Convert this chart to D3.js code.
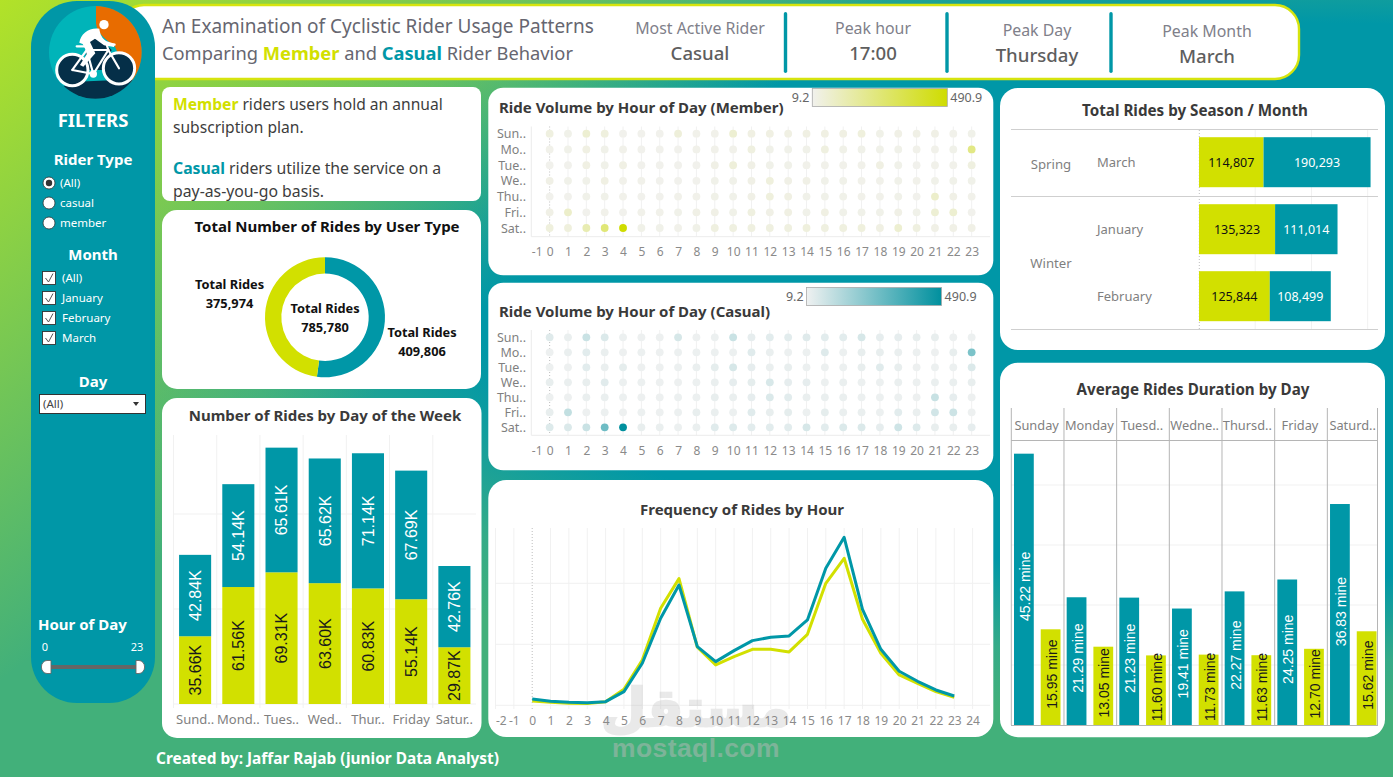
<!DOCTYPE html>
<html>
<head>
<meta charset="utf-8">
<title>Cyclistic Rider Usage</title>
<script src="https://cdn.jsdelivr.net/npm/d3@7/dist/d3.min.js"></script>
<style>
  html, body { margin: 0; padding: 0; overflow: hidden; background: #0097a7; }
  svg { display: block; }
  text { font-family: "Noto Sans", "Open Sans", sans-serif; }
  .num { font-family: "Liberation Sans", Arial, sans-serif; }
</style>
</head>
<body>
<svg id="board" width="1393" height="777"></svg>
<script>
// ---------- Data ----------
const weekNames = ["Sunday", "Monday", "Tuesday", "Wednesday", "Thursday", "Friday", "Saturday"];
const stackTickLabels = ["Sund..", "Mond..", "Tues..", "Wed..", "Thur..", "Friday", "Satur.."];
const durationHeaders = ["Sunday", "Monday", "Tuesd..", "Wedne..", "Thursd..", "Friday", "Saturd.."];
const dotRowLabels = ["Sun..", "Mo..", "Tue..", "We..", "Thu..", "Fri..", "Sat.."];

const memberByDayK = [35.66, 61.56, 69.31, 63.60, 60.83, 55.14, 29.87];
const casualByDayK = [42.84, 54.14, 65.61, 65.62, 71.14, 67.69, 42.76];

const memberDuration = [15.95, 13.05, 11.60, 11.73, 11.63, 12.70, 15.62];
const casualDuration = [45.22, 21.29, 21.23, 19.41, 22.27, 24.25, 36.83];

const userTypes = ["Casual", "Member"];
const userTotals = [409806, 375974];
const grandTotal = 785780;

const seasonNames = ["Spring", "Winter"];
const monthNames = ["March", "January", "February"];
const memberByMonth = [114807, 135323, 125844];
const casualByMonth = [190293, 111014, 108499];

const hours = d3.range(0, 24);
const memberByHour = [1420, 980, 660, 550, 1200, 5250, 14860, 31810, 41530, 19020, 13230, 15960,
                      18360, 18360, 17490, 23280, 40000, 48200, 28200, 17050, 9950, 7210, 4480, 2620];
const casualByHour = [2080, 1310, 980, 870, 1200, 4480, 13770, 28530, 39450, 19240, 14320, 17920,
                      21200, 22300, 22730, 27980, 44920, 55090, 31480, 18360, 11150, 7870, 5030, 3060];

// Volume per weekday (rows) and hour (columns)
const memberVolume = [
  [35, 18, 65, 40, 12, 12, 12, 48, 15, 15, 65, 30, 30, 30, 30, 30, 30, 42, 20, 24, 24, 24, 15, 18],
  [15, 18, 30, 18, 15, 12, 12, 12, 15, 15, 15, 35, 18, 18, 18, 36, 20, 18, 18, 18, 15, 15, 18, 220],
  [12, 12, 30, 18, 28, 12, 12, 12, 12, 24, 48, 24, 18, 18, 15, 15, 15, 15, 30, 18, 12, 15, 15, 36],
  [24, 18, 18, 30, 15, 15, 12, 12, 12, 18, 18, 24, 42, 24, 24, 18, 18, 15, 15, 18, 15, 18, 18, 18],
  [12, 12, 18, 18, 15, 12, 12, 15, 15, 20, 18, 24, 42, 30, 18, 18, 18, 15, 15, 18, 12, 78, 24, 15],
  [24, 80, 12, 15, 12, 15, 15, 18, 24, 24, 20, 36, 24, 30, 18, 30, 18, 18, 18, 24, 18, 60, 66, 12],
  [42, 42, 130, 250, 490, 20, 18, 15, 20, 36, 36, 36, 36, 36, 42, 36, 38, 42, 30, 66, 36, 24, 24, 24]
];
const casualVolume = [
  [42, 20, 85, 50, 16, 14, 14, 60, 14, 16, 85, 28, 35, 35, 42, 35, 35, 60, 28, 28, 24, 24, 14, 16],
  [14, 20, 35, 20, 14, 16, 14, 16, 16, 16, 16, 40, 20, 16, 16, 44, 16, 24, 24, 20, 16, 14, 24, 240],
  [14, 14, 35, 20, 30, 14, 14, 16, 20, 30, 60, 28, 20, 24, 16, 16, 16, 24, 40, 24, 14, 16, 16, 50],
  [24, 20, 24, 38, 16, 16, 14, 14, 16, 20, 28, 30, 55, 28, 28, 16, 20, 16, 16, 20, 16, 20, 20, 24],
  [14, 14, 20, 20, 16, 14, 14, 16, 16, 24, 20, 28, 50, 35, 20, 20, 20, 16, 16, 16, 14, 90, 28, 14],
  [24, 100, 14, 16, 14, 16, 14, 16, 24, 20, 16, 40, 24, 30, 16, 30, 20, 20, 16, 35, 20, 70, 80, 14],
  [45, 50, 85, 270, 490, 24, 20, 16, 20, 40, 45, 35, 35, 35, 60, 35, 50, 50, 28, 75, 45, 24, 24, 28]
];
const volumeRange = [9.2, 490.9];

const kpiTiles = [
  ["Most Active Rider", "Casual"],
  ["Peak hour", "17:00"],
  ["Peak Day", "Thursday"],
  ["Peak Month", "March"]
];
const riderOptions = ["(All)", "casual", "member"];
const monthOptions = ["(All)", "January", "February", "March"];

// ---------- Palette ----------
const TEAL = "#0097a7";
const LIME = "#d2e000";
const GRID = "#f1f1f1";
const MUTED = "#7f7f7f";
const INK = "#3a3a3a";

const svg = d3.select("#board");
const defs = svg.append("defs");

// ---------- Backdrop ----------
const glow = defs.append("radialGradient").attr("id", "glow")
  .attr("gradientUnits", "userSpaceOnUse")
  .attr("cx", 0).attr("cy", 0).attr("r", 1)
  .attr("gradientTransform", "translate(1300,300) scale(1250,420)");
[[0, TEAL], [0.66, TEAL], [0.86, "#35ab88"], [1, "#42b07a"]].forEach(([o, c]) =>
  glow.append("stop").attr("offset", o).attr("stop-color", c));

const limeWash = defs.append("linearGradient").attr("id", "limeWash")
  .attr("gradientUnits", "userSpaceOnUse")
  .attr("x1", 0).attr("y1", 0).attr("x2", 500).attr("y2", 650);
limeWash.append("stop").attr("offset", 0).attr("stop-color", "#b2e228").attr("stop-opacity", 1);
limeWash.append("stop").attr("offset", 0.66).attr("stop-color", "#b2e228").attr("stop-opacity", 0);

svg.append("rect").attr("width", 1393).attr("height", 777).attr("fill", "url(#glow)");
svg.append("rect").attr("width", 1393).attr("height", 777).attr("fill", "url(#limeWash)");

// ---------- Helpers ----------
function label(parent, x, y, str, opts = {}) {
  return parent.append("text").attr("x", x).attr("y", y)
    .attr("text-anchor", opts.anchor || "middle")
    .attr("font-size", opts.size || 12)
    .attr("font-weight", opts.weight || 400)
    .attr("fill", opts.fill || MUTED)
    .text(str);
}
function panel(x, y, w, h, r) {
  svg.append("rect").attr("x", x).attr("y", y).attr("width", w).attr("height", h)
    .attr("rx", r).attr("fill", "#fff");
}
function richLine(parent, x, y, size, runs, baseFill) {
  const t = parent.append("text").attr("x", x).attr("y", y).attr("font-size", size).attr("fill", baseFill);
  runs.forEach(r => t.append("tspan")
    .attr("fill", r.fill || baseFill)
    .attr("font-weight", r.bold ? 700 : 400)
    .text(r.text));
  return t;
}
const hyphenTick = d => String(d).replace("\u2212", "-");

// ---------- Header ----------
svg.append("rect").attr("x", 120).attr("y", 5).attr("width", 1179).attr("height", 74)
  .attr("rx", 24).attr("fill", "#fff").attr("stroke", "#d6e40e").attr("stroke-width", 2.4);

richLine(svg, 162, 33, 19, [{ text: "An Examination of Cyclistic Rider Usage Patterns" }], "#666670");
richLine(svg, 162, 60, 18.3, [
  { text: "Comparing " }, { text: "Member", fill: LIME, bold: true }, { text: " and " },
  { text: "Casual", fill: TEAL, bold: true }, { text: " Rider Behavior" }
], "#666670");

const kpiCenters = [700, 873, 1037, 1207];
const kpiBase = [34, 34, 36, 37];
kpiTiles.forEach((d, i) => {
  label(svg, kpiCenters[i], kpiBase[i], d[0], { size: 15.9, fill: "#80808a" });
  label(svg, kpiCenters[i], kpiBase[i] + 26, d[1], { size: 18.6, weight: 500, fill: "#5e5e5e" });
});
[785.5, 947, 1111].forEach(x =>
  svg.append("rect").attr("x", x - 1.7).attr("y", 12).attr("width", 3.4).attr("height", 61)
    .attr("rx", 1.7).attr("fill", TEAL));

// ---------- Sidebar ----------
svg.append("rect").attr("x", 31).attr("y", 1).attr("width", 124).attr("height", 702)
  .attr("rx", 46).attr("fill", TEAL);

// Logo badge: cyclist over a three-colour disc
defs.append("clipPath").attr("id", "discClip").append("circle")
  .attr("cx", 166).attr("cy", 157).attr("r", 139);
const logo = svg.append("g").attr("transform", "translate(40,0) scale(0.3333)");
const disc = logo.append("g").attr("clip-path", "url(#discClip)");
disc.append("rect").attr("x", 0).attr("y", 0).attr("width", 345).attr("height", 315).attr("fill", "#00b4b9");
disc.append("path").attr("fill", "#e86c00")
  .attr("d", "M168,10 L168,70 C170,100 200,120 225,140 L272,250 L330,250 L330,10 Z");
disc.append("path").attr("fill", "#052f48")
  .attr("d", "M60,262 L110,245 L230,240 L290,240 L290,310 L60,310 Z");
disc.append("path").attr("fill", "#052f48")
  .attr("d", "M145,120 L178,112 L215,150 L185,210 L130,210 Z");
[[97, 210], [237, 205]].forEach(([cx, cy]) =>
  logo.append("circle").attr("cx", cx).attr("cy", cy).attr("r", 47)
    .attr("fill", "#052f48").attr("stroke", "#fff").attr("stroke-width", 9));
const frame = logo.append("g").attr("stroke", "#fff").attr("stroke-width", 6.5)
  .attr("fill", "none").attr("stroke-linecap", "round");
frame.append("path").attr("d", "M97,210 L140,150 L205,150 L237,205");
frame.append("path").attr("d", "M140,150 L160,222 L205,150");
frame.append("path").attr("d", "M97,210 L160,222");
frame.append("path").attr("d", "M205,150 L200,134 L224,134");
frame.append("path").attr("d", "M110,139 L150,139");
logo.append("circle").attr("cx", 160).attr("cy", 222).attr("r", 11).attr("fill", "#fff");
logo.append("circle").attr("cx", 192).attr("cy", 74).attr("r", 14).attr("fill", "#fff");
logo.append("path").attr("fill", "#fff")
  .attr("d", "M118,128 C122,100 148,82 178,86 C180,102 186,116 200,124 L224,131 L222,141 L192,136 L165,116 L150,126 L166,160 L130,200 L120,195 L142,160 L128,132 Z");

label(svg, 93, 127, "FILTERS", { size: 18.5, weight: 700, fill: "#fff" });
label(svg, 93, 165, "Rider Type", { size: 15, weight: 700, fill: "#fff" });
riderOptions.forEach((d, i) => {
  const y = 183 + i * 20;
  svg.append("circle").attr("cx", 49).attr("cy", y).attr("r", 6)
    .attr("fill", "#fff").attr("stroke", "#333").attr("stroke-width", 0.8);
  if (i === 0) svg.append("circle").attr("cx", 49).attr("cy", y).attr("r", 3.2).attr("fill", "#333");
  label(svg, 60, y + 4, d, { anchor: "start", size: 11.5, fill: "#fff" });
});
label(svg, 93, 260, "Month", { size: 15, weight: 700, fill: "#fff" });
monthOptions.forEach((d, i) => {
  const y = 278 + i * 20;
  svg.append("rect").attr("x", 42.5).attr("y", y - 6.5).attr("width", 13).attr("height", 13)
    .attr("fill", "#fff").attr("stroke", "#333").attr("stroke-width", 0.9);
  svg.append("path").attr("d", `M45.5,${y} L48.5,${y + 4} L53,${y - 4.5}`)
    .attr("fill", "none").attr("stroke", "#555").attr("stroke-width", 1);
  label(svg, 62, y + 4, d, { anchor: "start", size: 11.5, fill: "#fff" });
});
label(svg, 93, 387, "Day", { size: 15, weight: 700, fill: "#fff" });
svg.append("rect").attr("x", 39.5).attr("y", 394.5).attr("width", 106).attr("height", 19)
  .attr("fill", "#fff").attr("stroke", "#333").attr("stroke-width", 1);
label(svg, 43, 408, "(All)", { anchor: "start", size: 11.5, fill: "#444" });
svg.append("path").attr("d", "M133,402 L139,402 L136,406 Z").attr("fill", "#333");

label(svg, 38, 630, "Hour of Day", { anchor: "start", size: 15, weight: 700, fill: "#fff" });
label(svg, 45, 651, "0", { size: 11, fill: "#fff" });
label(svg, 137, 651, "23", { size: 11, fill: "#fff" });
svg.append("rect").attr("x", 50).attr("y", 665).attr("width", 87).attr("height", 4).attr("fill", "#666");
svg.append("path").attr("d", "M51,660.5 L47,660.5 A5.6,6.5 0 0 0 47,673.5 L51,673.5 Z")
  .attr("fill", "#fff").attr("stroke", "#666").attr("stroke-width", 0.9);
svg.append("path").attr("d", "M136,660.5 L139,660.5 A5.6,6.5 0 0 1 139,673.5 L136,673.5 Z")
  .attr("fill", "#fff").attr("stroke", "#666").attr("stroke-width", 0.9);

// ---------- Rider type notes ----------
panel(162, 87, 319, 114, 8);
richLine(svg, 173, 110, 15.6, [{ text: "Member", fill: LIME, bold: true }, { text: " riders users hold an annual" }], "#3d3d3d");
richLine(svg, 173, 133, 15.6, [{ text: "subscription plan." }], "#3d3d3d");
richLine(svg, 173, 174, 15.8, [{ text: "Casual", fill: TEAL, bold: true }, { text: " riders utilize the service on a" }], "#3d3d3d");
richLine(svg, 173, 197, 15.8, [{ text: "pay-as-you-go basis." }], "#3d3d3d");

// ---------- Donut: total rides by user type ----------
panel(162, 210, 319, 179, 15);
label(svg, 327, 232, "Total Number of Rides by User Type", { size: 15, weight: 700, fill: "#111" });
const donut = svg.append("g").attr("transform", "translate(325,317.3)");
const pie = d3.pie().sort(null);
const arc = d3.arc().innerRadius(43.7).outerRadius(60);
donut.selectAll("path").data(pie(userTotals)).join("path")
  .attr("d", arc).attr("fill", (d, i) => i === 0 ? TEAL : LIME);
const fmt = d3.format(",");
[[229.5, 289, userTotals[1]], [325, 313, grandTotal], [422, 337, userTotals[0]]].forEach(([x, y, v]) => {
  label(svg, x, y, "Total Rides", { size: 12.8, weight: 700, fill: "#111" });
  label(svg, x, y + 19, fmt(v), { size: 12.8, weight: 700, fill: "#111" });
});

// ---------- Stacked columns: rides by weekday ----------
panel(162, 398, 319.5, 340, 15);
label(svg, 325, 421, "Number of Rides by Day of the Week", { size: 15, weight: 700, fill: INK });
const stackX = d3.scaleBand().domain(weekNames).range([173.5, 476]).paddingInner(0.258).paddingOuter(0.129);
const stackY = d3.scaleLinear().domain([0, 150]).range([704, 419]);
const stackGrid = svg.append("g");
[50, 100].forEach(v => stackGrid.append("line").attr("x1", 173.5).attr("x2", 476)
  .attr("y1", stackY(v)).attr("y2", stackY(v)).attr("stroke", GRID));
stackGrid.append("line").attr("x1", 173.5).attr("x2", 476).attr("y1", 704).attr("y2", 704).attr("stroke", GRID);
weekNames.forEach((d, i) => {
  const gx = 173.5 + stackX.step() * i;
  stackGrid.append("line").attr("x1", gx).attr("x2", gx).attr("y1", 435).attr("y2", 708).attr("stroke", GRID);
});
const stackSeries = d3.stack().keys(["member", "casual"])(
  weekNames.map((d, i) => ({ day: d, member: memberByDayK[i], casual: casualByDayK[i] })));
stackSeries.forEach((layer, li) => {
  const g = svg.append("g");
  layer.forEach((seg, i) => {
    const x = stackX(weekNames[i]);
    g.append("rect").attr("x", x).attr("y", stackY(seg[1])).attr("width", stackX.bandwidth())
      .attr("height", stackY(seg[0]) - stackY(seg[1])).attr("fill", li === 0 ? LIME : TEAL);
    const cx = x + stackX.bandwidth() / 2, cy = (stackY(seg[0]) + stackY(seg[1])) / 2;
    g.append("text").attr("class", "num")
      .attr("transform", `translate(${cx},${cy}) rotate(-90)`)
      .attr("text-anchor", "middle").attr("dy", "0.36em").attr("font-size", 16)
      .attr("fill", li === 0 ? "#1a1a1a" : "#fff")
      .text(`${(seg[1] - seg[0]).toFixed(2)}K`);
  });
});
stackTickLabels.forEach((d, i) =>
  label(svg, stackX(weekNames[i]) + stackX.bandwidth() / 2, 724, d, { size: 13 }));

// ---------- Dot matrices: ride volume by hour ----------
function dotMatrix(cfg) {
  panel(488.3, cfg.top, 505, cfg.height, 15);
  label(svg, 499, cfg.titleY, cfg.title, { anchor: "start", size: 15, weight: 700, fill: INK });

  const x = d3.scaleLinear().domain([-1, 24]).range([531.3, 990]);
  const y = d3.scalePoint().domain(weekNames).range([cfg.rowTop, cfg.rowBottom]);
  const colour = d3.scaleLinear().domain(volumeRange).range(cfg.colours);
  const g = svg.append("g");

  hours.forEach(h => g.append("line").attr("x1", x(h)).attr("x2", x(h))
    .attr("y1", cfg.gridTop).attr("y2", cfg.axisY).attr("stroke", h === 0 ? "#bdbdbd" : GRID)
    .attr("stroke-dasharray", h === 0 ? "1 2" : null));
  g.append("line").attr("x1", 531.3).attr("x2", 990).attr("y1", cfg.axisY).attr("y2", cfg.axisY).attr("stroke", "#ececec");
  g.append("line").attr("x1", 531.3).attr("x2", 531.3).attr("y1", cfg.gridTop).attr("y2", cfg.axisY).attr("stroke", "#ececec");

  cfg.values.forEach((row, r) => {
    g.selectAll(null).data(row).join("circle")
      .attr("cx", (d, h) => x(h)).attr("cy", y(weekNames[r])).attr("r", 3.9)
      .attr("fill", d => colour(d));
    label(g, 526, y(weekNames[r]) + 4.5, dotRowLabels[r], { anchor: "end", size: 12.5 });
  });

  const axis = g.append("g").attr("transform", `translate(0,${cfg.axisY})`)
    .call(d3.axisBottom(x).tickValues(d3.range(-1, 24)).tickFormat(hyphenTick).tickSize(0).tickPadding(11));
  axis.select(".domain").remove();
  axis.selectAll("text").attr("font-size", 12).attr("fill", "#8a8a8a")
    .attr("font-family", '"Noto Sans", sans-serif');
  axis.selectAll("text").filter(d => d === -1).attr("text-anchor", "start");

  // Colour legend
  const id = `ramp${Math.round(cfg.top)}`;
  const ramp = defs.append("linearGradient").attr("id", id);
  ramp.append("stop").attr("offset", 0).attr("stop-color", cfg.colours[0]);
  ramp.append("stop").attr("offset", 1).attr("stop-color", cfg.colours[1]);
  svg.append("rect").attr("x", cfg.legend[0]).attr("y", cfg.legend[1]).attr("width", 135).attr("height", 18)
    .attr("fill", `url(#${id})`).attr("stroke", "#aaa").attr("stroke-width", 0.8);
  label(svg, cfg.legend[0] - 3, cfg.legend[1] + 13, volumeRange[0], { anchor: "end", size: 12.5, fill: "#666" });
  label(svg, cfg.legend[0] + 138, cfg.legend[1] + 13, volumeRange[1], { anchor: "start", size: 12.5, fill: "#666" });
}
dotMatrix({
  top: 87.7, height: 187.6, title: "Ride Volume by Hour of Day (Member)", titleY: 113,
  rowTop: 133.7, rowBottom: 228, gridTop: 126.5, axisY: 236.7,
  values: memberVolume, colours: ["#f1f1ed", "#cfdc00"], legend: [812.3, 88.5]
});
dotMatrix({
  top: 282.7, height: 187.6, title: "Ride Volume by Hour of Day (Casual)", titleY: 317,
  rowTop: 337.3, rowBottom: 427.3, gridTop: 330, axisY: 435.3,
  values: casualVolume, colours: ["#eff1f1", "#00909e"], legend: [806.6, 287.5]
});

// ---------- Line chart: frequency of rides by hour ----------
panel(488.3, 480, 505, 257, 18);
label(svg, 742, 515, "Frequency of Rides by Hour", { size: 15, weight: 700, fill: INK });
const lineX = d3.scaleLinear().domain([-2, 24]).range([495.5, 972.6]);
const lineY = d3.scaleLinear().domain([0, 60000]).range([705.3, 522.3]);
const lineGrid = svg.append("g");
d3.range(-2, 25).forEach(h => lineGrid.append("line")
  .attr("x1", lineX(h)).attr("x2", lineX(h)).attr("y1", 528).attr("y2", 709)
  .attr("stroke", h === 0 ? "#bdbdbd" : GRID).attr("stroke-dasharray", h === 0 ? "1 2" : null));
[0, 20000, 40000].forEach(v => lineGrid.append("line")
  .attr("x1", 495.5).attr("x2", 990).attr("y1", lineY(v)).attr("y2", lineY(v)).attr("stroke", GRID));

// Site mark sits under the plot's axis labels and lines
svg.append("text").attr("x", 696).attr("y", 726).attr("text-anchor", "middle")
  .attr("font-size", 52).attr("font-weight", 700).attr("fill", "#aaa").attr("opacity", 0.25)
  .attr("stroke", "#aaa").attr("stroke-width", 2.5)
  .style("font-family", '"DejaVu Sans", sans-serif').text("مستقل");

const hourLine = d3.line().x((d, i) => lineX(hours[i])).y(d => lineY(d));
[[memberByHour, LIME], [casualByHour, TEAL]].forEach(([vals, col]) =>
  svg.append("path").attr("d", hourLine(vals)).attr("fill", "none")
    .attr("stroke", col).attr("stroke-width", 3).attr("stroke-linejoin", "round"));
const lineAxis = svg.append("g").attr("transform", "translate(0,705.3)")
  .call(d3.axisBottom(lineX).tickValues(d3.range(-2, 25)).tickFormat(hyphenTick).tickSize(0).tickPadding(11));
lineAxis.select(".domain").remove();
lineAxis.selectAll("text").attr("font-size", 12).attr("fill", "#8a8a8a")
  .attr("font-family", '"Noto Sans", sans-serif');
lineAxis.selectAll("text").filter(d => d === -2).attr("text-anchor", "start");

// ---------- Horizontal bars: rides by season and month ----------
panel(1000, 88, 385, 262, 18);
label(svg, 1195, 116, "Total Rides by Season / Month", { size: 15.2, weight: 700, fill: INK });
const monthX = d3.scaleLinear().domain([0, 300000]).range([1199, 1367.7]);
const monthY = d3.scaleBand().domain(monthNames).range([128.7, 329.7]).paddingInner(0.2537).paddingOuter(0.127);
[100000, 200000, 300000].forEach(v => svg.append("line")
  .attr("x1", monthX(v)).attr("x2", monthX(v)).attr("y1", 130).attr("y2", 329).attr("stroke", GRID));
svg.append("line").attr("x1", 1199.3).attr("x2", 1199.3).attr("y1", 130).attr("y2", 329)
  .attr("stroke", "#bdbdbd").attr("stroke-dasharray", "1 2");
[129.5, 196.5, 329.5].forEach(y => svg.append("line")
  .attr("x1", 1011).attr("x2", 1378).attr("y1", y).attr("y2", y).attr("stroke", "#cfcfcf"));
monthNames.forEach((m, i) => {
  const y = monthY(m), h = monthY.bandwidth();
  const a = memberByMonth[i], b = casualByMonth[i];
  svg.append("rect").attr("x", monthX(0)).attr("y", y).attr("width", monthX(a) - monthX(0)).attr("height", h).attr("fill", LIME);
  svg.append("rect").attr("x", monthX(a)).attr("y", y).attr("width", monthX(a + b) - monthX(a)).attr("height", h).attr("fill", TEAL);
  label(svg, (monthX(0) + monthX(a)) / 2, y + h / 2 + 4.5, fmt(a), { size: 12.5, fill: "#111" });
  label(svg, (monthX(a) + monthX(a + b)) / 2, y + h / 2 + 4.5, fmt(b), { size: 12.5, fill: "#fff" });
  label(svg, 1097, y + h / 2 + 5, m, { anchor: "start", size: 13 });
});
label(svg, 1051, 169, seasonNames[0], { size: 13.2 });
label(svg, 1051, 268, seasonNames[1], { size: 13.2 });

// ---------- Grouped columns: average ride duration ----------
panel(1000, 362.7, 385, 374.5, 18);
label(svg, 1193, 395, "Average Rides Duration by Day", { size: 15.2, weight: 700, fill: INK });
const durX = d3.scaleBand().domain(weekNames).range([1011.3, 1380]);
const durInner = d3.scaleBand().domain(["casual", "member"]).range([2.7, 49.2]).paddingInner(0.26);
const durY = d3.scaleLinear().domain([0, 50]).range([725, 425]);
[10, 20, 30, 40].forEach(v => svg.append("line")
  .attr("x1", 1011).attr("x2", 1377).attr("y1", durY(v)).attr("y2", durY(v)).attr("stroke", GRID));
weekNames.forEach((d, i) => {
  const x0 = durX(d);
  [["casual", casualDuration[i]], ["member", memberDuration[i]]].forEach(([k, v]) => {
    const x = x0 + durInner(k);
    svg.append("rect").attr("x", x).attr("y", durY(v)).attr("width", durInner.bandwidth())
      .attr("height", 725 - durY(v)).attr("fill", k === "casual" ? TEAL : LIME);
    svg.append("text").attr("class", "num")
      .attr("transform", `translate(${x + durInner.bandwidth() / 2 + 1},${(durY(v) + 725) / 2 - 3}) rotate(-90)`)
      .attr("text-anchor", "middle").attr("dy", "0.36em").attr("font-size", 14)
      .attr("fill", k === "casual" ? "#fff" : "#1a1a1a")
      .text(`${v.toFixed(2)} mine`);
  });
  label(svg, x0 + durX.bandwidth() / 2 - 1, 430, durationHeaders[i], { size: 12.8 });
});
d3.range(0, 8).forEach(i => {
  const gx = i < 7 ? durX(weekNames[i]) : 1377.5;
  svg.append("line").attr("x1", gx).attr("x2", gx).attr("y1", 408).attr("y2", 725).attr("stroke", "#b5b5b5");
});
[440.5, 725.5].forEach(y => svg.append("line").attr("x1", 1011).attr("x2", 1378)
  .attr("y1", y).attr("y2", y).attr("stroke", "#b5b5b5"));

// ---------- Footer ----------
label(svg, 156, 764, "Created by: Jaffar Rajab (junior Data Analyst)", { anchor: "start", size: 15.4, weight: 700, fill: "#fff" });
svg.append("text").attr("class", "num").attr("x", 696).attr("y", 757).attr("text-anchor", "middle")
  .attr("font-size", 26.5).attr("font-weight", 700).attr("fill", "#b8b8b8").attr("opacity", 0.5)
  .attr("letter-spacing", 0.4).text("mostaql.com");
</script>
</body>
</html>
